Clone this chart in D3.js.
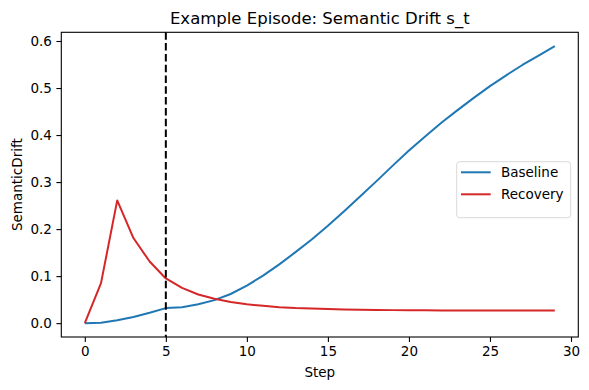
<!DOCTYPE html>
<html><head><meta charset="utf-8">
<script src="https://cdn.jsdelivr.net/npm/d3@7"></script>
<style>body{margin:0;background:#fff}svg{display:block}text{font-family:"DejaVu Sans",sans-serif;fill:#000}</style>
</head><body><svg id="c" width="589" height="390"></svg>
<script>
const steps = d3.range(0, 30);
const baseline = [0.000,0.001,0.006,0.013,0.022,0.032,0.034,0.040,0.049,0.062,0.080,0.101,0.125,0.151,0.178,0.207,0.238,0.270,0.302,0.335,0.367,0.397,0.426,0.453,0.479,0.504,0.527,0.549,0.569,0.589];
const recovery = [0.000,0.085,0.261,0.181,0.131,0.095,0.075,0.061,0.052,0.045,0.040,0.037,0.034,0.032,0.031,0.030,0.029,0.0285,0.028,0.0277,0.0274,0.0272,0.0271,0.027,0.0269,0.0268,0.0268,0.0267,0.0267,0.0267];
const interventionStep = 5;
const xTicks = [0,5,10,15,20,25,30];
const yTicks = [0.0,0.1,0.2,0.3,0.4,0.5,0.6];
const seriesNames = ["Baseline","Recovery"];
const colors = ["#1f77b4","#d62728"];

const svg = d3.select("#c");
const L = 61.3, R = 578.3, T = 32.3, B = 337;
const x = d3.scaleLinear().domain([-1.45, 30.45]).range([L, R]);
const y = d3.scaleLinear().domain([-0.02945, 0.6185]).range([B, T]);

const line = d3.line().x((d,i)=>x(steps[i])).y(d=>y(d));
[baseline, recovery].forEach((s,k)=>{
  svg.append("path").attr("d", line(s)).attr("fill","none")
    .attr("stroke", colors[k]).attr("stroke-width", 2).attr("stroke-linejoin","round").attr("stroke-linecap","butt");
});

svg.append("line").attr("x1", x(interventionStep)).attr("x2", x(interventionStep))
  .attr("y1", T).attr("y2", B).attr("stroke","#000").attr("stroke-width",2)
  .attr("stroke-dasharray","7.5,3.3");

// axes
const xa = svg.append("g").attr("transform",`translate(0,${B})`)
  .call(d3.axisBottom(x).tickValues(xTicks).tickFormat(d3.format("d")).tickSize(4.9).tickPadding(4.5));
const ya = svg.append("g").attr("transform",`translate(${L},0)`)
  .call(d3.axisLeft(y).tickValues(yTicks).tickFormat(d3.format(".1f")).tickSize(4.9).tickPadding(4.5));
[xa,ya].forEach(a=>{
  a.select(".domain").remove();
  a.selectAll(".tick line").attr("stroke","#000").attr("stroke-width",1.1);
  a.selectAll(".tick text").attr("font-size","13.5px").attr("font-family","DejaVu Sans").attr("fill","#000");
});

svg.append("rect").attr("x",L).attr("y",T).attr("width",R-L).attr("height",B-T)
  .attr("fill","none").attr("stroke","#000").attr("stroke-width",1.1);

svg.append("text").attr("x",(L+R)/2).attr("y",24).attr("text-anchor","middle")
  .attr("font-size","16.5px").text("Example Episode: Semantic Drift s_t");
svg.append("text").attr("x",(L+R)/2).attr("y",377).attr("text-anchor","middle")
  .attr("font-size","13.5px").text("Step");
svg.append("text").attr("transform",`translate(21.5,${(T+B)/2}) rotate(-90)`).attr("text-anchor","middle")
  .attr("font-size","13.5px").text("SemanticDrift");

// legend
const lg = svg.append("g");
lg.append("rect").attr("x",456.7).attr("y",161.7).attr("width",114).attr("height",56).attr("rx",3)
  .attr("fill","#fff").attr("fill-opacity",0.8).attr("stroke","#d9d9d9").attr("stroke-width",1);
seriesNames.forEach((n,k)=>{
  const yy = 172.3 + k*22;
  lg.append("line").attr("x1",461).attr("x2",490.7).attr("y1",yy).attr("y2",yy)
    .attr("stroke",colors[k]).attr("stroke-width",2);
  lg.append("text").attr("x",501).attr("y",yy+4.8).attr("font-size","13.5px").text(n);
});
</script></body></html>
